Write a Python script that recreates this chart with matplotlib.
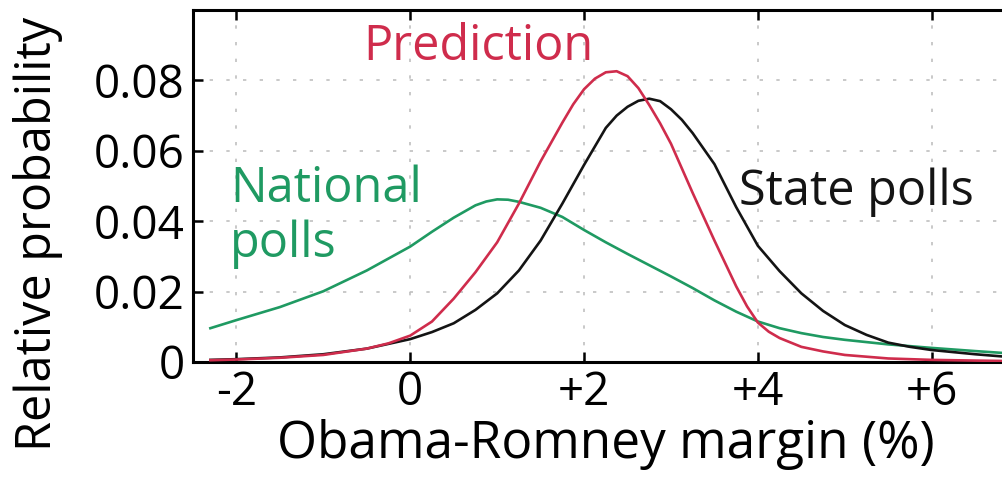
import numpy as np
import matplotlib
matplotlib.use("Agg")
import matplotlib.pyplot as plt

plt.rcParams["font.family"] = ["Open Sans", "DejaVu Sans"]

# margin (%) / relative probability samples for each curve
national_x = [-2.3, -2.0, -1.5, -1.0, -0.5, 0.0, 0.25, 0.5, 0.75, 0.875,
              1.0, 1.125, 1.25, 1.5, 1.75, 2.0, 2.25, 2.5, 2.75, 3.0, 3.25,
              3.5, 3.75, 4.0, 4.25, 4.5, 4.75, 5.0, 5.5, 6.0, 6.5, 6.8]
national_y = [0.0096, 0.0119, 0.0156, 0.0201, 0.0260, 0.0328, 0.0370,
              0.0410, 0.0445, 0.0456, 0.0462, 0.0461, 0.0455, 0.0438,
              0.0412, 0.0375, 0.0340, 0.0307, 0.0275, 0.0243, 0.0210,
              0.0175, 0.0143, 0.0115, 0.0096, 0.0082, 0.0071, 0.0063,
              0.0050, 0.0040, 0.0031, 0.0026]

prediction_x = [-2.3, -2.0, -1.5, -1.0, -0.5, -0.25, 0.0, 0.25, 0.5, 0.75,
                1.0, 1.25, 1.5, 1.75, 1.875, 2.0, 2.125, 2.25, 2.375, 2.5,
                2.625, 2.75, 2.875, 3.0, 3.25, 3.5, 3.75, 3.875, 4.0, 4.125,
                4.25, 4.5, 4.75, 5.0, 5.5, 6.0, 6.5, 6.8]
prediction_y = [0.0005, 0.0007, 0.0012, 0.0020, 0.0038, 0.0053, 0.0075,
                0.0115, 0.0180, 0.0255, 0.0340, 0.0450, 0.0570, 0.0680,
                0.0732, 0.0775, 0.0805, 0.0823, 0.0826, 0.0812, 0.0778,
                0.0730, 0.0678, 0.0620, 0.0480, 0.0345, 0.0215, 0.0158,
                0.0112, 0.0086, 0.0068, 0.0043, 0.0030, 0.0020, 0.0010,
                0.0006, 0.0004, 0.0003]

state_x = [-2.3, -2.0, -1.5, -1.0, -0.5, 0.0, 0.25, 0.5, 0.75, 1.0, 1.25,
           1.5, 1.75, 2.0, 2.25, 2.375, 2.5, 2.625, 2.75, 2.875, 3.0, 3.125,
           3.25, 3.5, 3.75, 4.0, 4.25, 4.5, 4.75, 5.0, 5.25, 5.5, 5.75, 6.0,
           6.5, 6.8]
state_y = [0.0006, 0.0008, 0.0013, 0.0022, 0.0038, 0.0065, 0.0085, 0.0110,
           0.0148, 0.0195, 0.0260, 0.0345, 0.0450, 0.0560, 0.0665, 0.0700,
           0.0725, 0.0742, 0.0748, 0.0741, 0.0718, 0.0688, 0.0650, 0.0562,
           0.0440, 0.0330, 0.0258, 0.0195, 0.0145, 0.0105, 0.0077, 0.0055,
           0.0043, 0.0034, 0.0022, 0.0016]

x_ticks = [-2, 0, 2, 4, 6]
x_ticklabels = ["-2", "0", "+2", "+4", "+6"]
y_ticks = [0, 0.02, 0.04, 0.06, 0.08]
y_ticklabels = ["0", "0.02", "0.04", "0.06", "0.08"]

RED = "#cf2c4c"
GREEN = "#1f9a62"
BLACK = "#141414"

fig = plt.figure(figsize=(10.02, 4.78), dpi=100)
ax = fig.add_axes([0.1926, 0.2427, 0.824, 0.7364])

ax.plot(national_x, national_y, color=GREEN, lw=1.9, zorder=3)
ax.plot(state_x, state_y, color=BLACK, lw=1.9, zorder=4)
ax.plot(prediction_x, prediction_y, color=RED, lw=1.9, zorder=5)

ax.set_xlim(-2.5, 7.0)
ax.set_ylim(0, 0.1)
ax.set_xticks(x_ticks)
ax.set_xticklabels(x_ticklabels)
ax.set_yticks(y_ticks)
ax.set_yticklabels(y_ticklabels)

ax.grid(True, color="#c0c0c0", linestyle=(0, (2, 8)), linewidth=1.2)
ax.tick_params(direction="in", length=7, width=1.8, labelsize=33,
               top=True, right=True, pad=6)
for s in ax.spines.values():
    s.set_linewidth(2.2)

ax.set_xlabel("Obama-Romney margin (%)", fontsize=37, labelpad=2)
ax.set_ylabel("Relative probability", fontsize=35)
ax.yaxis.set_label_coords(-0.158, 0.365)

ax.text(-0.54, 0.0857, "Prediction", color=RED, fontsize=35,
        ha="left", va="baseline")
ax.text(-2.07, 0.0298, "National\npolls", color=GREEN, fontsize=35,
        ha="left", va="baseline", linespacing=1.15)
ax.text(3.78, 0.0445, "State polls", color=BLACK, fontsize=35,
        ha="left", va="baseline")

fig.savefig("out.png", dpi=100)
